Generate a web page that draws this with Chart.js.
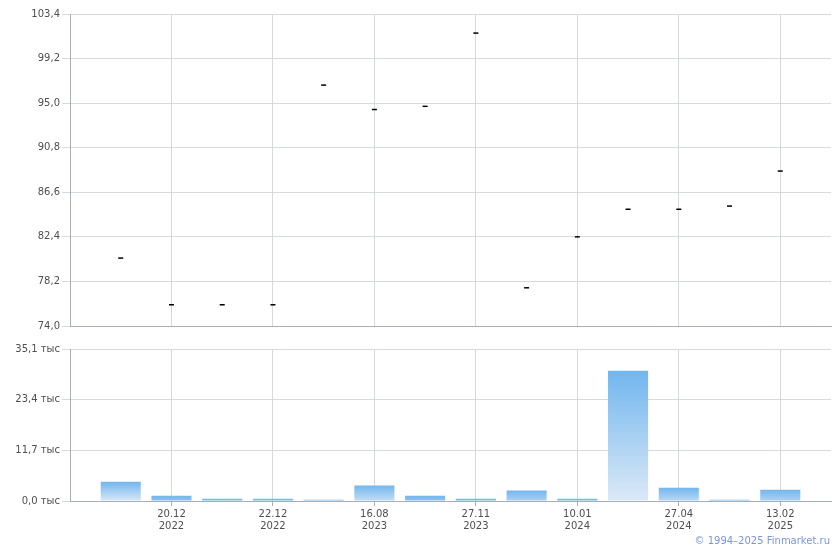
<!DOCTYPE html>
<html>
<head>
<meta charset="utf-8">
<script src="https://cdn.jsdelivr.net/npm/chart.js@4.4.1/dist/chart.umd.min.js"></script>
<style>
    body { margin: 0; background: #fff; }
    #wrap { position: relative; width: 840px; height: 550px; }
    #priceBox { position: absolute; left: 0; top: 0; width: 840px; height: 335px; }
    #volumeBox { position: absolute; left: 0; top: 335px; width: 840px; height: 215px; }
    #copy {
        position: absolute; right: 10px; top: 535px;
        font: 10px "DejaVu Sans", Verdana, sans-serif; color: #7a96d8;
    }
</style>
</head>
<body>
<div id="wrap">
    <div id="priceBox"><canvas id="priceChart"></canvas></div>
    <div id="volumeBox"><canvas id="volumeChart"></canvas></div>
    <div id="copy">© 1994–2025 Finmarket.ru</div>
</div>
<script>
// Tick labels under the volume panel (only every other trade day is labelled)
const dateLabels = [
    '', ['20.12', '2022'], '', ['22.12', '2022'], '', ['16.08', '2023'], '',
    ['27.11', '2023'], '', ['10.01', '2024'], '', ['27.04', '2024'], '', ['13.02', '2025']
];

// Price per trade day
const prices = [80.4, 76.0, 76.0, 76.0, 96.7, 94.4, 94.7, 101.6, 77.6, 82.4, 85.0, 85.0, 85.3, 88.6];

// Volume per trade day, thousands
const volumes = [4.46, 1.22, 0.53, 0.53, 0.3, 3.6, 1.22, 0.53, 2.45, 0.53, 30.1, 3.07, 0.3, 2.6];

// Axis ticks
const priceTicks = [74.0, 78.2, 82.4, 86.6, 90.8, 95.0, 99.2, 103.4];
const volumeTicks = [0, 11.7, 23.4, 35.1];

const FONT = { family: '"DejaVu Sans", Verdana, sans-serif', size: 10 };
const TEXT_COLOR = '#4f4f4f';
const GRID_COLOR = '#d6dadf';
const AXIS_COLOR = '#a9adb6';

// one empty slot on each side so the marks sit like the original
const slots = ['', ...dateLabels, ''];
const pad = arr => [null, ...arr, null];

function vGrid(ctx) {
    const lbl = slots[ctx.index];
    return lbl && lbl !== '' ? GRID_COLOR : 'rgba(0,0,0,0)';
}

function vTick(ctx) {
    const lbl = slots[ctx.index];
    return lbl && lbl !== '' ? AXIS_COLOR : 'rgba(0,0,0,0)';
}

function fmt(v) {
    return v.toFixed(1).replace('.', ',');
}

new Chart(document.getElementById('priceChart'), {
    type: 'line',
    data: {
        labels: slots,
        datasets: [{
            data: pad(prices),
            showLine: false,
            pointStyle: 'line',
            pointRadius: 2.5,
            pointHoverRadius: 2.5,
            borderColor: '#000',
            pointBorderWidth: 1.5,
            backgroundColor: '#000'
        }]
    },
    options: {
        responsive: true,
        maintainAspectRatio: false,
        animation: false,
        layout: { padding: { top: 14, right: 9, bottom: 9, left: 0 } },
        plugins: { legend: { display: false }, tooltip: { enabled: false } },
        scales: {
            x: {
                offset: false,
                grid: { color: vGrid, drawTicks: false, offset: false },
                ticks: { display: false },
                border: { color: AXIS_COLOR }
            },
            y: {
                min: 74,
                max: 103.4,
                afterBuildTicks: scale => { scale.ticks = priceTicks.map(v => ({ value: v })); },
                afterFit: scale => { scale.width = 70; },
                grid: { color: GRID_COLOR, tickLength: 8, tickColor: GRID_COLOR },
                border: { color: AXIS_COLOR },
                ticks: { font: FONT, color: TEXT_COLOR, padding: 2, callback: v => fmt(v) }
            }
        }
    }
});

new Chart(document.getElementById('volumeChart'), {
    type: 'bar',
    data: {
        labels: slots,
        datasets: [{
            data: pad(volumes),
            barPercentage: 0.79,
            categoryPercentage: 1,
            backgroundColor: ctx => {
                const chart = ctx.chart;
                const y = chart.scales.y;
                if (!y || ctx.raw == null) return '#7ab9ee';
                const top = y.getPixelForValue(ctx.raw);
                const base = y.getPixelForValue(0);
                // short bars stay mostly blue, like the original
                const g = chart.ctx.createLinearGradient(0, top, 0, Math.max(base, top + 20));
                g.addColorStop(0, '#72b6ee');
                g.addColorStop(1, '#dbe9f7');
                return g;
            }
        }]
    },
    options: {
        responsive: true,
        maintainAspectRatio: false,
        animation: false,
        layout: { padding: { top: 14, right: 9, bottom: 19, left: 0 } },
        plugins: { legend: { display: false }, tooltip: { enabled: false } },
        scales: {
            x: {
                offset: false,
                afterFit: scale => { scale.height = 30; },
                grid: { color: vGrid, tickColor: vTick, tickLength: 5, offset: false },
                border: { color: AXIS_COLOR },
                ticks: {
                    font: FONT, color: TEXT_COLOR, padding: 2,
                    autoSkip: false, maxRotation: 0,
                    callback: (v, i) => slots[i]
                }
            },
            y: {
                min: 0,
                max: 35.1,
                afterBuildTicks: scale => { scale.ticks = volumeTicks.map(v => ({ value: v })); },
                afterFit: scale => { scale.width = 70; },
                grid: { color: GRID_COLOR, tickLength: 8, tickColor: GRID_COLOR },
                border: { color: AXIS_COLOR },
                ticks: { font: FONT, color: TEXT_COLOR, padding: 2, callback: v => fmt(v) + ' тыс' }
            }
        }
    }
});
</script>
</body>
</html>
